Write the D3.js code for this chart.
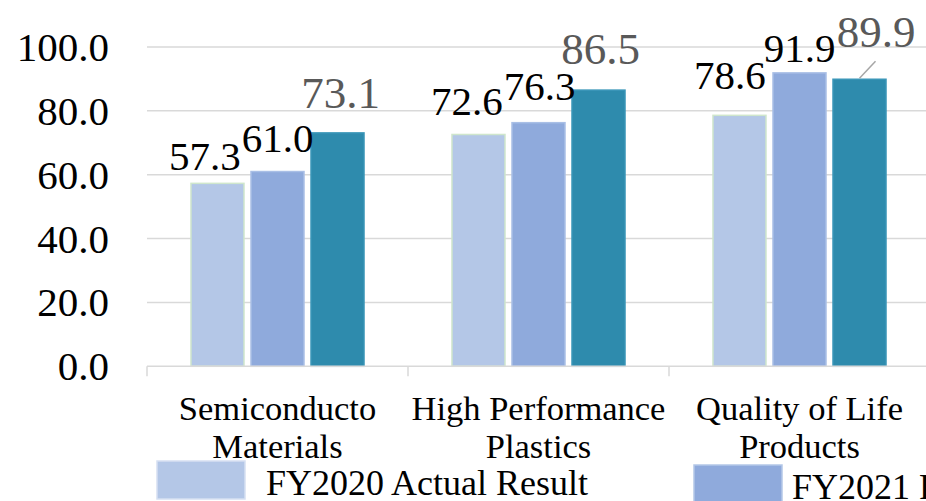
<!DOCTYPE html>
<html>
<head>
<meta charset="utf-8">
<script src="https://cdn.jsdelivr.net/npm/d3@7"></script>
<style>
  html, body { margin: 0; padding: 0; background: #fff; overflow: hidden; }
  svg { display: block; font-family: "Liberation Serif", "Times New Roman", serif; }
</style>
</head>
<body>
<svg id="chart" width="926" height="501"></svg>
<script>
// Segment sales by fiscal year
const categories = [["Semiconducto", "Materials"], ["High Performance", "Plastics"], ["Quality of Life", "Products"]];
const seriesNames = ["FY2020 Actual Result", "FY2021 Forecast", "FY2022 Plan"];
const fy2020 = [57.3, 72.6, 78.6];
const fy2021 = [61.0, 76.3, 91.9];
const fy2022 = [73.1, 86.5, 89.9];
const yTicks = [0, 20, 40, 60, 80, 100];

const seriesValues = [fy2020, fy2021, fy2022];
const fills = ["#b4c7e7", "#8faadc", "#2e8bad"];
const strokes = ["#cfe6cc", "#a9bfe6", "#3a96b8"];
const labelColors = ["#000000", "#000000", "#595959"];
const labelSizes = [41, 41, 45];
// hand-placed label nudges (dx, dy from bar top centre), per series then category
const labelNudge = [
  [[-12.5, -13], [-11.5, -19.5], [-9.5, -26]],
  [[0, -19.5], [1, -22.5], [0, -11]],
  [[3, -25], [2, -26], [16.5, -32]]
];

const svg = d3.select("#chart");
const plotLeft = 147, plotRight = 930, plotTop = 47, plotBottom = 366.3;

const x0 = d3.scaleBand()
  .domain(d3.range(categories.length))
  .range([plotLeft, plotRight])
  .padding(0);

const x1 = d3.scaleBand()
  .domain(d3.range(seriesNames.length))
  .range([0, x0.bandwidth()])
  .paddingInner(0.1167)
  .paddingOuter(0.733);

const y = d3.scaleLinear().domain([0, 100]).range([plotBottom, plotTop]);

// horizontal gridlines
svg.append("g")
  .selectAll("line")
  .data(yTicks.filter(t => t > 0))
  .join("line")
  .attr("x1", plotLeft).attr("x2", 926)
  .attr("y1", d => y(d)).attr("y2", d => y(d))
  .attr("stroke", "#d9d9d9").attr("stroke-width", 1.5);

// y tick labels
svg.append("g")
  .selectAll("text")
  .data(yTicks)
  .join("text")
  .attr("x", 109)
  .attr("y", d => y(d) + 14)
  .attr("text-anchor", "end")
  .attr("font-size", 41)
  .attr("fill", "#000")
  .text(d => d3.format(".1f")(d));

// bars
const rows = [];
seriesValues.forEach((vals, s) => vals.forEach((v, c) => rows.push({ s, c, v })));

svg.append("g")
  .selectAll("rect")
  .data(rows)
  .join("rect")
  .attr("x", d => x0(d.c) + x1(d.s))
  .attr("y", d => y(d.v))
  .attr("width", x1.bandwidth())
  .attr("height", d => y(0) - y(d.v))
  .attr("fill", d => fills[d.s])
  .attr("stroke", d => strokes[d.s])
  .attr("stroke-width", 1.5);

// category axis with tick marks between groups
const xAxis = svg.append("g");
xAxis.append("line")
  .attr("x1", plotLeft).attr("x2", 926)
  .attr("y1", y(0)).attr("y2", y(0))
  .attr("stroke", "#d9d9d9").attr("stroke-width", 1.5);
xAxis.selectAll("line.tick")
  .data(d3.range(categories.length + 1))
  .join("line")
  .attr("class", "tick")
  .attr("x1", d => plotLeft + d * x0.step())
  .attr("x2", d => plotLeft + d * x0.step())
  .attr("y1", y(0)).attr("y2", y(0) + 10)
  .attr("stroke", "#d9d9d9").attr("stroke-width", 1.5);

const catText = xAxis.selectAll("text.cat")
  .data(categories)
  .join("text")
  .attr("class", "cat")
  .attr("x", (d, i) => x0(i) + x0.bandwidth() / 2)
  .attr("y", 420)
  .attr("text-anchor", "middle")
  .attr("font-size", 34.5)
  .attr("fill", "#000");
catText.selectAll("tspan")
  .data(d => d)
  .join("tspan")
  .attr("x", function () { return this.parentNode.getAttribute("x"); })
  .attr("dy", (d, i) => i === 0 ? 0 : 38)
  .text(d => d);

// leader line for the last label
const leadRow = rows.find(r => r.s === 2 && r.c === 2);
const lx = x0(leadRow.c) + x1(leadRow.s) + x1.bandwidth() / 2;
svg.append("line")
  .attr("x1", lx).attr("y1", y(leadRow.v) - 1)
  .attr("x2", lx + 16).attr("y2", y(leadRow.v) - 18)
  .attr("stroke", "#a6a6a6").attr("stroke-width", 1.5);

// value labels
svg.append("g")
  .selectAll("text")
  .data(rows)
  .join("text")
  .attr("x", d => x0(d.c) + x1(d.s) + x1.bandwidth() / 2 + labelNudge[d.s][d.c][0])
  .attr("y", d => y(d.v) + labelNudge[d.s][d.c][1])
  .attr("text-anchor", "middle")
  .attr("font-size", d => labelSizes[d.s])
  .attr("fill", d => labelColors[d.s])
  .text(d => d3.format(".1f")(d.v));

// legend
const legendPos = [[157, 461, 266, 495], [694, 465, 792, 499]];
const lg = svg.append("g");
legendPos.forEach((p, i) => {
  lg.append("rect")
    .attr("x", p[0]).attr("y", p[1])
    .attr("width", 88).attr("height", 38)
    .attr("fill", fills[i])
    .attr("stroke", i === 0 ? "#d6e0f2" : "#b4c7e7")
    .attr("stroke-width", 1.5);
  lg.append("text")
    .attr("x", p[2]).attr("y", p[3])
    .attr("font-size", 36)
    .attr("fill", "#000")
    .text(seriesNames[i]);
});
</script>
</body>
</html>
